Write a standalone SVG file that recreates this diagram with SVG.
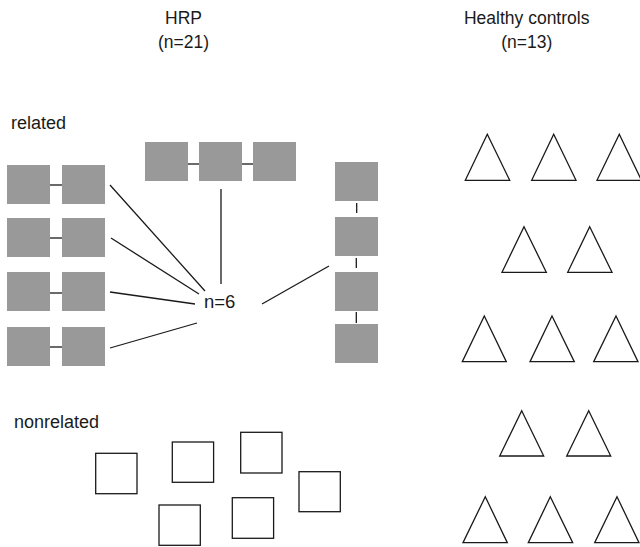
<svg xmlns="http://www.w3.org/2000/svg" width="640" height="547" viewBox="0 0 640 547">
<style>
text{font-family:"Liberation Sans",Arial,sans-serif;fill:#1a1a1a}
.h{font-size:17.5px;text-anchor:middle}
.l{font-size:18px}
.g{fill:#999999;stroke:none}
.o{fill:#ffffff;stroke:#1a1a1a;stroke-width:1.3}
.t{fill:#ffffff;stroke:#1a1a1a;stroke-width:1.3;stroke-linejoin:miter}
.c line{stroke:#1a1a1a;stroke-width:1.3}
</style>
<rect width="640" height="547" fill="#ffffff"/>
<g id="headers">
<text class="h" x="183.5" y="23.5">HRP</text>
<text class="h" x="183.5" y="47.5">(n=21)</text>
<text class="h" x="526.7" y="23.5">Healthy controls</text>
<text class="h" x="526.7" y="47.5">(n=13)</text>
</g>
<g id="labels">
<text class="l" x="11" y="129">related</text>
<text class="l" x="14" y="428">nonrelated</text>
<text class="l" x="204" y="308" style="font-size:18.5px">n=6</text>
</g>
<g id="connectors" class="c">
<line x1="50" y1="185" x2="62" y2="185"/>
<line x1="50" y1="238" x2="62" y2="238"/>
<line x1="50" y1="293" x2="62" y2="293"/>
<line x1="50" y1="347" x2="62" y2="347"/>
<line x1="188" y1="164" x2="199" y2="164"/>
<line x1="242" y1="164" x2="253" y2="164"/>
<line x1="356.7" y1="203" x2="356.7" y2="213"/>
<line x1="356.3" y1="258" x2="356.3" y2="268"/>
<line x1="356.3" y1="312" x2="356.3" y2="323"/>
<line x1="110" y1="185" x2="205" y2="291"/>
<line x1="111" y1="238" x2="199" y2="294"/>
<line x1="110" y1="292" x2="195" y2="304"/>
<line x1="110" y1="348" x2="197" y2="323"/>
<line x1="221" y1="189" x2="221" y2="284"/>
<line x1="262" y1="304" x2="329" y2="266"/>
</g>
<g id="related-pairs">
<rect class="g" x="7" y="165" width="43" height="39"/>
<rect class="g" x="62" y="165" width="43" height="39"/>
<rect class="g" x="7" y="218" width="43" height="39"/>
<rect class="g" x="62" y="218" width="43" height="39"/>
<rect class="g" x="7" y="272" width="43" height="39"/>
<rect class="g" x="62" y="272" width="43" height="39"/>
<rect class="g" x="7" y="327" width="43" height="39"/>
<rect class="g" x="62" y="327" width="43" height="39"/>
</g>
<g id="related-trio">
<rect class="g" x="145" y="142" width="43" height="39"/>
<rect class="g" x="199" y="142" width="43" height="39"/>
<rect class="g" x="253" y="142" width="43" height="39"/>
</g>
<g id="related-column">
<rect class="g" x="335" y="162" width="43" height="39"/>
<rect class="g" x="335" y="217" width="43" height="39"/>
<rect class="g" x="335" y="272" width="43" height="39"/>
<rect class="g" x="335" y="324" width="43" height="39"/>
</g>
<g id="nonrelated">
<rect class="o" x="95.7" y="453.3" width="41.3" height="40.4"/>
<rect class="o" x="172.3" y="442" width="41.3" height="40.3"/>
<rect class="o" x="240.7" y="432.3" width="41.3" height="40.7"/>
<rect class="o" x="299" y="471.7" width="41.3" height="40"/>
<rect class="o" x="159" y="505" width="41.3" height="40.3"/>
<rect class="o" x="232.3" y="497.7" width="41.3" height="40.6"/>
</g>
<g id="controls">
<polygon class="t" points="487.3,134.3 509.7,180.3 465.3,180.3"/>
<polygon class="t" points="553.7,134.3 576,180.3 531.7,180.3"/>
<polygon class="t" points="619.3,134.3 641.5,180.3 597,180.3"/>
<polygon class="t" points="524,226.7 546.3,272.3 502,272.3"/>
<polygon class="t" points="589.7,226.7 612,272.3 567.7,272.3"/>
<polygon class="t" points="484.3,316 506.3,361.7 462.3,361.7"/>
<polygon class="t" points="552,316 574.3,361.7 530,361.7"/>
<polygon class="t" points="616,316 638,361.7 593.7,361.7"/>
<polygon class="t" points="521.7,410.7 543.7,456 499.7,456"/>
<polygon class="t" points="588.7,410.7 610.7,456 566.7,456"/>
<polygon class="t" points="485.3,496.7 507.3,542.7 463,542.7"/>
<polygon class="t" points="550.3,496.7 572.7,542.7 528.3,542.7"/>
<polygon class="t" points="617,496.7 639,542.7 594.7,542.7"/>
</g>
</svg>
